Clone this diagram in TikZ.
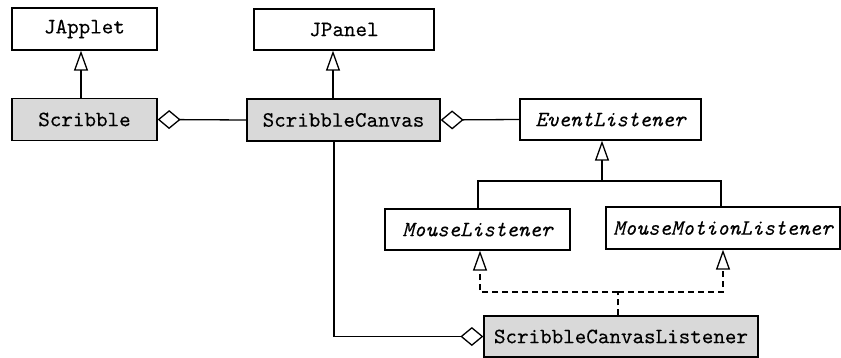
\documentclass[tikz,border=0pt]{standalone}
\usepackage{fontspec}
\setmonofont{Latin Modern Mono}[FakeBold=0.2]
\usetikzlibrary{arrows.meta}
\begin{document}
\begin{tikzpicture}[x=0.5pt,y=-0.5pt,
  cls/.style={draw, line width=0.65pt, fill=white, inner sep=0pt,
    font=\ttfamily\fontsize{11}{13}\selectfont},
  concrete/.style={cls, fill=black!15},
  iface/.style={cls, font=\ttfamily\itshape\fontsize{11}{13}\selectfont},
  link/.style={line width=0.65pt},
  gen/.style={link, -{Triangle[open, length=10pt, width=7pt]}},
  real/.style={gen, dash pattern=on 3pt off 2pt},
  agg/.style={link, -{Diamond[open, length=11.5pt, width=9.5pt]}}]
  \useasboundingbox (0,0) rectangle (841,358);

  % classes
  \node[cls, minimum width=72.5pt, minimum height=21pt] (japplet) at (84.5,29) {JApplet};
  \node[concrete, minimum width=72.5pt, minimum height=21pt] (scribble) at (84.5,119.5) {Scribble};
  \node[cls, minimum width=90pt, minimum height=20.5pt] (jpanel) at (344,29.5) {JPanel};
  \node[concrete, minimum width=96.5pt, minimum height=21pt] (canvas) at (343.5,120) {ScribbleCanvas};
  \node[iface, minimum width=90.5pt, minimum height=20.5pt] (event) at (610.5,119.5) {EventListener};
  \node[iface, minimum width=92.5pt, minimum height=20.5pt] (mouse) at (477.5,229.5) {MouseListener};
  \node[iface, minimum width=117pt, minimum height=21pt] (motion) at (723,228) {MouseMotionListener};
  \node[concrete, minimum width=137pt, minimum height=20.5pt] (listener) at (621,336.5) {ScribbleCanvasListener};

  % inheritance
  \draw[gen] (81,0 |- scribble.north) -- (81,0 |- japplet.south);
  \draw[gen] (333,0 |- canvas.north) -- (333,0 |- jpanel.south);

  \coordinate (evjoin) at (602,181);
  \draw[link] (478,0 |- mouse.north) |- (evjoin);
  \draw[link] (721,0 |- motion.north) |- (evjoin);
  \draw[gen] (evjoin) -- (602,0 |- event.south);

  % interface realisation
  \coordinate (impljoin) at (618,292);
  \draw[link, dash pattern=on 3pt off 2pt] (618,0 |- listener.north) -- (impljoin);
  \draw[real] (impljoin) -| (480,0 |- mouse.south);
  \draw[real] (impljoin) -| (723,0 |- motion.south);

  % aggregation
  \draw[agg] (canvas.west) -- (scribble.east);
  \draw[agg] (event.west) -- (canvas.east);
  \draw[agg] (334,0 |- canvas.south) |- (listener.west);
\end{tikzpicture}
\end{document}
